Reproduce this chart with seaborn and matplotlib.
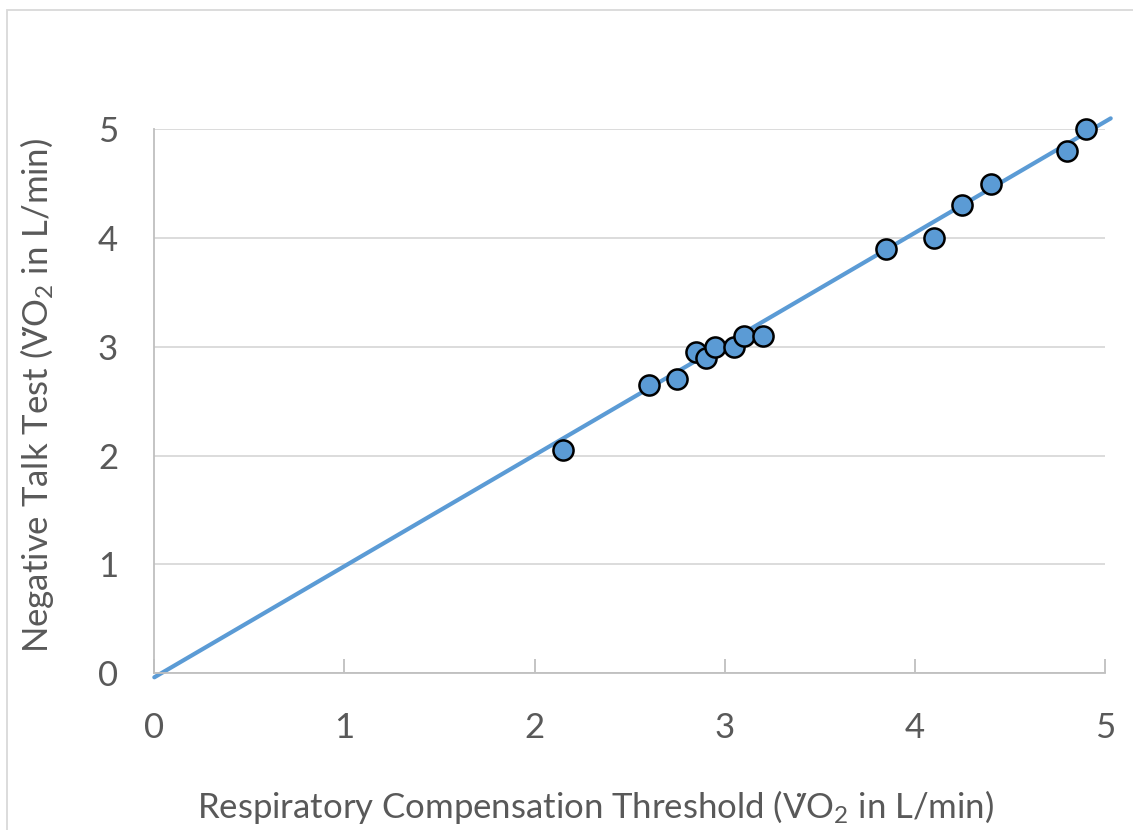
import numpy as np
import matplotlib
matplotlib.use('Agg')
import matplotlib.pyplot as plt
import seaborn as sns
import pandas as pd
from matplotlib.patches import Rectangle

# data (L/min)
rct = [2.15, 2.60, 2.75, 2.85, 2.90, 2.95, 3.05, 3.10, 3.20, 3.85, 4.10, 4.25, 4.40, 4.80, 4.90]
ntt = [2.05, 2.65, 2.70, 2.95, 2.90, 3.00, 3.00, 3.10, 3.10, 3.90, 4.00, 4.30, 4.50, 4.80, 5.00]
# trendline as drawn in the chart
trend_slope = 1.022
trend_icpt = -0.04
trend_x = [0, 5.03]
ticks = [0, 1, 2, 3, 4, 5]

df = pd.DataFrame({'rct': rct, 'ntt': ntt})

sns.set_style('white')
plt.rcParams['font.family'] = ['Lato', 'DejaVu Sans']
plt.rcParams['mathtext.default'] = 'regular'

grey = '#595959'
blue = '#5b9bd5'

fig = plt.figure(figsize=(11.33, 8.3), dpi=100)
ax = fig.add_axes([0.1362, 0.1892, 0.8391, 0.655])

# outer chart border
fig.patches.append(Rectangle((7 / 1133, -0.1), 1.2, 1 - 10 / 830 + 0.1, transform=fig.transFigure,
                             fill=False, edgecolor='#d9d9d9', lw=1.3, zorder=0))

tx = np.array(trend_x)
ax.plot(tx, trend_slope * tx + trend_icpt, color=blue, lw=3, zorder=2, clip_on=False)

sns.scatterplot(data=df, x='rct', y='ntt', ax=ax, s=210, color=blue,
                edgecolor='black', linewidth=1.8, zorder=3, clip_on=False)

ax.set_xlim(0, 5)
ax.set_ylim(0, 5)
ax.set_xticks(ticks)
ax.set_yticks(ticks)
ax.set_xticklabels([str(t) for t in ticks])
ax.set_yticklabels([str(t) for t in ticks])
ax.yaxis.grid(True, color='#d9d9d9', lw=1.3)
ax.set_axisbelow(True)
for s in ['top', 'right']:
    ax.spines[s].set_visible(False)
for s in ['left', 'bottom']:
    ax.spines[s].set_color('#bfbfbf')
    ax.spines[s].set_linewidth(1.3)
ax.tick_params(axis='x', direction='in', length=10, width=1.3, color='#bfbfbf',
               labelsize=25, labelcolor=grey, pad=28, bottom=True)
ax.tick_params(axis='y', length=0, labelsize=25, labelcolor=grey, pad=26)

ax.set_xlabel('Respiratory Compensation Threshold (V\u0307O$_2$ in L/min)',
              fontsize=25, color=grey, labelpad=32)
ax.set_ylabel('Negative Talk Test (V\u0307O$_2$ in L/min)',
              fontsize=25, color=grey, labelpad=30)
ax.xaxis.label.set_x(0.464)
ax.yaxis.label.set_y(0.51)

fig.savefig('out.png', dpi=100)
